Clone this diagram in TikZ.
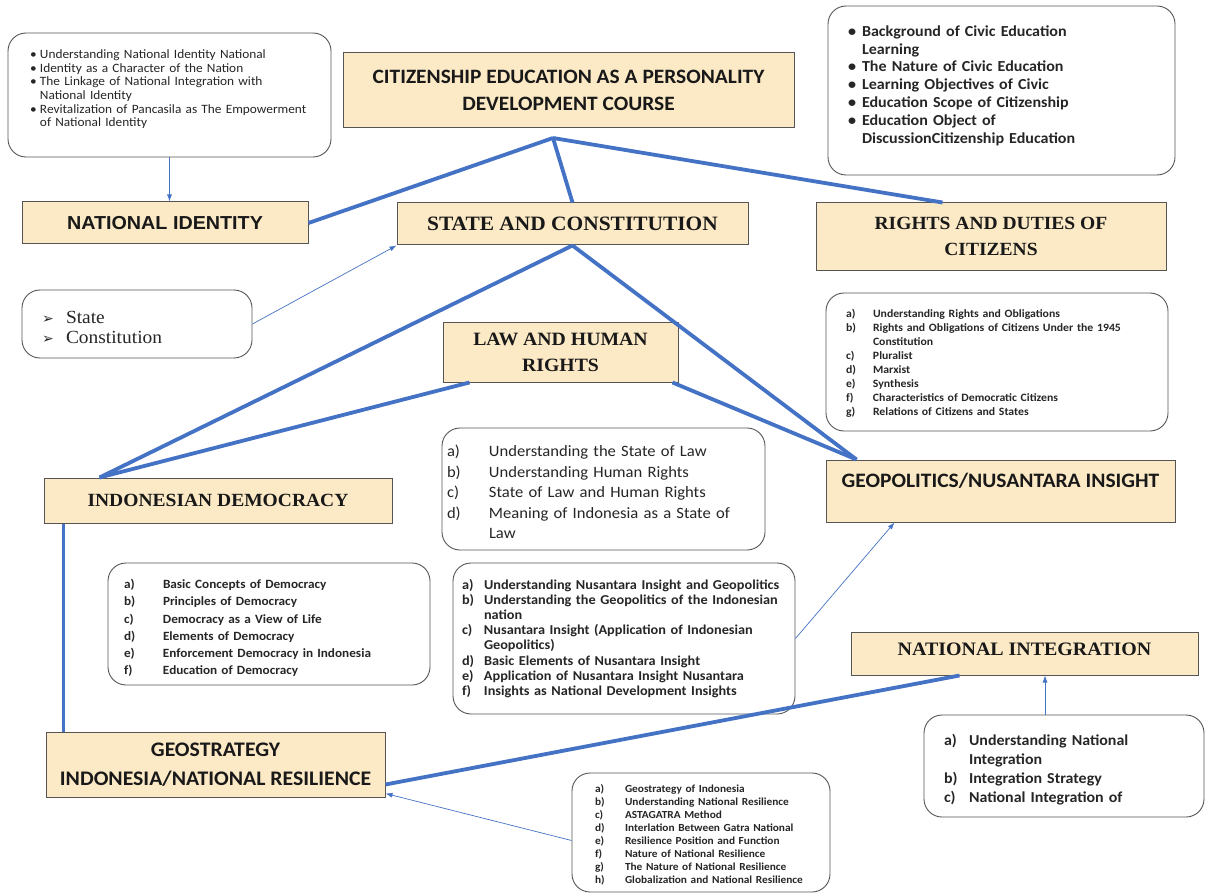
\documentclass[tikz,border=0pt]{standalone}
\usepackage{fontspec}
\setmainfont{Carlito}[FakeStretch=1.05]
\newfontfamily\serifhead{Liberation Serif}[FakeStretch=1.05]
\newfontfamily\sanshead{Liberation Sans}[FakeStretch=1.05]
\newfontfamily\symbfont{DejaVu Sans}
\usetikzlibrary{arrows.meta}
\definecolor{boxfill}{RGB}{252,233,197}
\definecolor{linkblue}{RGB}{68,114,196}
\definecolor{edgegray}{RGB}{85,85,85}
\newlength\labw
\newcommand{\entry}[2]{\par\noindent\makebox[\labw][l]{#1}\mbox{#2}}
\newcommand{\pointer}{{\symbfont\fontsize{14}{14}\selectfont ➢}}

\begin{document}
\begin{tikzpicture} [x=1pt, y=-1pt,
                     topic/.style= {shape=rectangle, draw=edgegray,
                                    fill=boxfill, line width=1pt,
                                    inner sep=0, align=center,
                                    text=black!90},
                     notes/.style= {shape=rectangle, rounded corners=18pt,
                                    draw=edgegray, fill=white,
                                    line width=0.9pt, inner ysep=0,
                                    align=left, text=black!85},
                     trunk/.style= {draw=linkblue, line width=3.8pt},
                     link/.style=  {draw=linkblue, line width=0.7pt,
                                    -{Latex[length=7pt,width=5pt]}}]

\useasboundingbox (0,0) rectangle (1205,896);

% main topics
\node[topic, minimum width=451pt, minimum height=75pt,
      font=\bfseries\fontsize{20.4}{27}\selectfont] (course) at (568.5,90.5)
      {CITIZENSHIP EDUCATION AS A PERSONALITY\\DEVELOPMENT COURSE};
\node[topic, minimum width=286pt, minimum height=42pt,
      font=\sanshead\bfseries\fontsize{18.8}{22}\selectfont] (natid) at (165,223) {NATIONAL IDENTITY};
\node[topic, minimum width=351pt, minimum height=42pt,
      font=\serifhead\bfseries\fontsize{20.4}{24}\selectfont] (state) at (572.5,224) {STATE AND CONSTITUTION};
\node[topic, minimum width=350pt, minimum height=67pt,
      font=\serifhead\bfseries\fontsize{18.6}{26}\selectfont] (rights) at (991,236.5) {RIGHTS AND DUTIES OF\\CITIZENS};
\node[topic, minimum width=235pt, minimum height=60pt,
      font=\serifhead\bfseries\fontsize{18.8}{26}\selectfont] (law) at (560.5,352) {LAW AND HUMAN\\RIGHTS};
\node[topic, minimum width=348pt, minimum height=45pt,
      font=\serifhead\bfseries\fontsize{18.6}{22}\selectfont] (democ) at (218,500.5) {INDONESIAN DEMOCRACY};
\node[topic, minimum width=349pt, text height=27pt, text depth=35pt,
      font=\bfseries\fontsize{20.5}{24}\selectfont] (geopol) at (1000.5,491) {GEOPOLITICS/NUSANTARA INSIGHT};
\node[topic, minimum width=347pt, text height=23pt, text depth=20pt,
      font=\serifhead\bfseries\fontsize{19}{22}\selectfont] (natint) at (1024.5,653.5) {NATIONAL INTEGRATION};
\node[topic, minimum width=339pt, minimum height=65pt,
      font=\bfseries\fontsize{20.7}{29}\selectfont] (geostr) at (215.5,764.5)
      {GEOSTRATEGY\\INDONESIA/NATIONAL RESILIENCE};

% sub topic lists
\node[notes, minimum width=323pt, minimum height=124pt, inner xsep=22pt, text width=279pt,
      font=\fontsize{12.7}{13.6}\selectfont] (idlist) at (169.5,95) {\setlength\labw{10pt}%
  \entry{\textbullet}{Understanding National Identity National}
  \entry{\textbullet}{Identity as a Character of the Nation}
  \entry{\textbullet}{The Linkage of National Integration with}
  \entry{}{National Identity}
  \entry{\textbullet}{Revitalization of Pancasila as The Empowerment}
  \entry{}{of National Identity}\par\vspace{16pt}};
\node[notes, minimum width=347pt, minimum height=169pt, inner xsep=20pt, text width=307pt,
      font=\bfseries\fontsize{15.3}{17.8}\selectfont] (civic) at (1001.5,90.5) {\setlength\labw{14pt}%
  \entry{\textbullet}{Background of Civic Education}
  \entry{}{Learning}
  \entry{\textbullet}{The Nature of Civic Education}
  \entry{\textbullet}{Learning Objectives of Civic}
  \entry{\textbullet}{Education Scope of Citizenship}
  \entry{\textbullet}{Education Object of}
  \entry{}{DiscussionCitizenship Education}\par\vspace{17pt}};
\node[notes, minimum width=230pt, minimum height=68pt, inner xsep=20pt, text width=190pt,
      font=\serifhead\fontsize{18.5}{20}\selectfont] (statelist) at (137,324) {\setlength\labw{24pt}%
  \entry{\pointer}{State}
  \entry{\pointer}{Constitution}};
\node[notes, minimum width=342pt, minimum height=138pt, inner xsep=20pt, text width=302pt,
      font=\bfseries\fontsize{11.2}{13.9}\selectfont] (rightslist) at (997,362) {\setlength\labw{27pt}%
  \entry{a)}{Understanding Rights and Obligations}
  \entry{b)}{Rights and Obligations of Citizens Under the 1945}
  \entry{}{Constitution}
  \entry{c)}{Pluralist}
  \entry{d)}{Marxist}
  \entry{e)}{Synthesis}
  \entry{f)}{Characteristics of Democratic Citizens}
  \entry{g)}{Relations of Citizens and States}\par\vspace{3pt}};
\node[notes, minimum width=323pt, minimum height=122pt, inner xsep=5pt, text width=313pt,
      font=\fontsize{15.8}{20.5}\selectfont] (lawlist) at (603.5,489) {\setlength\labw{42pt}%
  \entry{a)}{Understanding the State of Law}
  \entry{b)}{Understanding Human Rights}
  \entry{c)}{State of Law and Human Rights}
  \entry{d)}{Meaning of Indonesia as a State of}
  \entry{}{Law}\par\vspace{3pt}};
\node[notes, minimum width=322pt, minimum height=122pt, inner xsep=16pt, text width=290pt,
      font=\bfseries\fontsize{12.6}{17.2}\selectfont] (demlist) at (269,624) {\setlength\labw{39pt}%
  \entry{a)}{Basic Concepts of Democracy}
  \entry{b)}{Principles of Democracy}
  \entry{c)}{Democracy as a View of Life}
  \entry{d)}{Elements of Democracy}
  \entry{e)}{Enforcement Democracy in Indonesia}
  \entry{f)}{Education of Democracy}};
\node[notes, minimum width=342pt, minimum height=151pt, inner xsep=9pt, text width=324pt,
      font=\bfseries\fontsize{13.6}{15.1}\selectfont] (nuslist) at (624,638.5) {\setlength\labw{22pt}%
  \entry{a)}{Understanding Nusantara Insight and Geopolitics}
  \entry{b)}{Understanding the Geopolitics of the Indonesian}
  \entry{}{nation}
  \entry{c)}{Nusantara Insight (Application of Indonesian}
  \entry{}{Geopolitics)}
  \entry{d)}{Basic Elements of Nusantara Insight}
  \entry{e)}{Application of Nusantara Insight Nusantara}
  \entry{f)}{Insights as National Development Insights}\par\vspace{5pt}};
\node[notes, minimum width=280pt, minimum height=102pt, inner xsep=20pt, text width=240pt,
      font=\bfseries\fontsize{15.2}{19}\selectfont] (intlist) at (1064,766) {\setlength\labw{25pt}%
  \entry{a)}{Understanding National}
  \entry{}{Integration}
  \entry{b)}{Integration Strategy}
  \entry{c)}{National Integration of}};
\node[notes, minimum width=258pt, minimum height=119pt, inner xsep=23pt, text width=212pt,
      font=\bfseries\fontsize{10.8}{12.9}\selectfont] (reslist) at (701,832.5) {\setlength\labw{30pt}%
  \entry{a)}{Geostrategy of Indonesia}
  \entry{b)}{Understanding National Resilience}
  \entry{c)}{ASTAGATRA Method}
  \entry{d)}{Interlation Between Gatra National}
  \entry{e)}{Resilience Position and Function}
  \entry{f)}{Nature of National Resilience}
  \entry{g)}{The Nature of National Resilience}
  \entry{h)}{Globalization and National Resilience}};

% connectors
\coordinate (hub) at (553,138);
\coordinate (rightstop) at ([xshift=127pt]rights.north west);
\coordinate (demtop) at ([xshift=56pt]democ.north west);
\coordinate (geotop) at ([xshift=31pt]geopol.north west);
\coordinate (lawl) at ([xshift=27pt]law.south west);
\coordinate (lawr) at ([xshift=-6pt]law.south east);
\coordinate (demfoot) at ([xshift=20pt]democ.south west);
\coordinate (strhead) at (demfoot |- geostr.north);
\coordinate (strend) at ([yshift=-20pt]geostr.east);
\coordinate (intfoot) at ([xshift=109pt]natint.south west);

\foreach \a/\b in {hub/natid.east, hub/state.north, hub/rightstop,
                   state.south/demtop, state.south/geotop,
                   lawl/demtop, lawr/geotop,
                   demfoot/strhead, strend/intfoot}{%
    \draw[trunk] (\a) -- (\b);}

\draw[link] (idlist.south) -- (idlist.south |- natid.north);
\draw[link] (statelist.east) -- (state.south west);
\draw[link] (nuslist.east) -- ([xshift=69pt]geopol.south west);
\draw[link] ([xshift=-19pt]intlist.north) -- ([xshift=-19pt]intlist.north |- natint.south);
\draw[link] ([yshift=-8pt]reslist.west) -- ([yshift=4pt]geostr.south east);
\end{tikzpicture}
\end{document}
